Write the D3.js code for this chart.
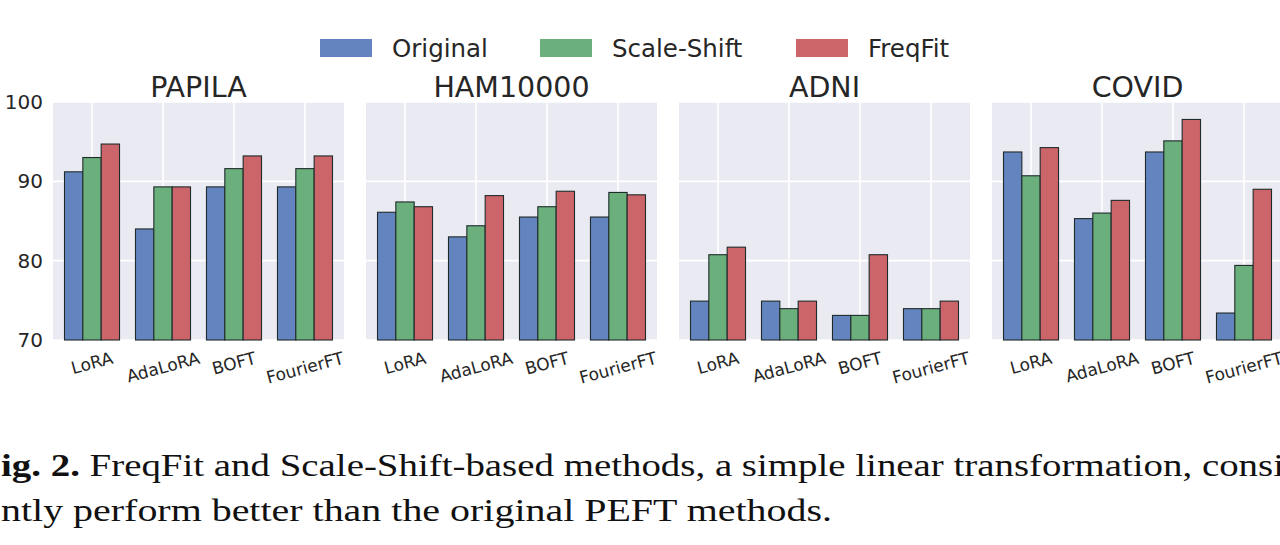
<!DOCTYPE html>
<html>
<head>
<meta charset="utf-8">
<script src="https://cdn.jsdelivr.net/npm/d3@7"></script>
<style>
  html, body { margin: 0; padding: 0; background: #ffffff; overflow: hidden; }
  svg { display: block; }
</style>
</head>
<body>
<svg id="chart" width="1280" height="545"></svg>
<script>
// ---------------- data ----------------
const datasets = ["PAPILA", "HAM10000", "ADNI", "COVID"];
const methods = ["LoRA", "AdaLoRA", "BOFT", "FourierFT"];
const seriesNames = ["Original", "Scale-Shift", "FreqFit"];
// values per dataset (rows) and method (columns)
const original   = [[91.2, 84.0, 89.3, 89.3], [86.1, 83.0, 85.5, 85.5], [74.9, 74.9, 73.1, 73.95], [93.7, 85.3, 93.7, 73.4]];
const scaleShift = [[93.0, 89.3, 91.6, 91.6], [87.4, 84.4, 86.8, 88.6], [80.75, 73.95, 73.1, 73.95], [90.7, 86.0, 95.1, 79.4]];
const freqFit    = [[94.7, 89.3, 93.2, 93.2], [86.8, 88.2, 88.75, 88.3], [81.7, 74.9, 80.75, 74.9], [94.25, 87.6, 97.8, 89.0]];
const yTicks = [70, 80, 90, 100];
const captionLines = [
  ["ig. 2.", " FreqFit and Scale-Shift-based methods, a simple linear transformation, consi"],
  ["", "ntly perform better than the original PEFT methods."]
];

// ---------------- layout ----------------
const colors = ["#6384BF", "#6BB07C", "#CC6569"];
const textColor = "#262626";
const svg = d3.select("#chart");

const plotTop = 102, plotBottom = 340;
const panelX = d3.scaleBand().domain(datasets).range([53, 1283]).paddingInner(22 / 313).paddingOuter(0);
const y = d3.scaleLinear().domain([70, 100]).range([plotBottom, plotTop]);
const x = d3.scaleBand().domain(methods).range([0, panelX.bandwidth()]).paddingInner(0.225).paddingOuter(0.162);
const xs = d3.scaleBand().domain(seriesNames).range([0, x.bandwidth()]).padding(0);
const seriesData = [original, scaleShift, freqFit];

datasets.forEach((ds, di) => {
  const g = svg.append("g").attr("transform", `translate(${panelX(ds)},0)`);
  const w = panelX.bandwidth();
  // background
  g.append("rect").attr("x", 0).attr("y", plotTop).attr("width", w).attr("height", plotBottom - plotTop).attr("fill", "#EAEAF2");
  // horizontal grid
  g.selectAll(".hg").data(yTicks).enter().append("line")
    .attr("x1", 0).attr("x2", w).attr("y1", d => y(d)).attr("y2", d => y(d))
    .attr("stroke", "#ffffff").attr("stroke-width", 1.6);
  // vertical grid
  g.selectAll(".vg").data(methods).enter().append("line")
    .attr("x1", d => x(d) + x.bandwidth() / 2).attr("x2", d => x(d) + x.bandwidth() / 2)
    .attr("y1", plotTop).attr("y2", plotBottom)
    .attr("stroke", "#ffffff").attr("stroke-width", 1.6);
  // bars
  methods.forEach((m, mi) => {
    seriesNames.forEach((s, si) => {
      const v = seriesData[si][di][mi];
      g.append("rect")
        .attr("x", x(m) + xs(s))
        .attr("y", y(v))
        .attr("width", xs.bandwidth())
        .attr("height", y(70) - y(v))
        .attr("fill", colors[si])
        .attr("stroke", "#1f2a2a")
        .attr("stroke-width", 1.1);
    });
  });
  // title
  g.append("text").attr("x", w / 2).attr("y", 97).attr("text-anchor", "middle")
    .attr("font-family", "DejaVu Sans").attr("font-size", 28.5).attr("fill", textColor).text(ds);
  // x axis labels
  const xAxis = g.append("g").attr("transform", `translate(0,${plotBottom})`)
    .call(d3.axisBottom(x).tickSize(0).tickPadding(0));
  xAxis.select(".domain").remove();
  xAxis.selectAll(".tick text").each(function () {
    const t = d3.select(this);
    t.attr("font-family", "DejaVu Sans").attr("font-size", 17).attr("fill", textColor)
      .attr("text-anchor", "middle").attr("dy", "0.35em").attr("y", 0);
    const tw = this.getComputedTextLength();
    const th = 17 * 1.15;
    const a = 15 * Math.PI / 180;
    const bh = tw * Math.sin(a) + th * Math.cos(a);
    t.attr("transform", `translate(0,${8 + bh / 2}) rotate(-15)`);
  });
  // y axis on first panel
  if (di === 0) {
    const yAxis = g.append("g").call(d3.axisLeft(y).tickValues(yTicks).tickSize(0).tickPadding(10));
    yAxis.select(".domain").remove();
    yAxis.selectAll(".tick text").attr("font-family", "DejaVu Sans").attr("font-size", 20).attr("fill", textColor);
  }
});

// legend
const legendX = [320, 540, 796];
seriesNames.forEach((s, i) => {
  svg.append("rect").attr("x", legendX[i]).attr("y", 39).attr("width", 52).attr("height", 18).attr("fill", colors[i]);
  svg.append("text").attr("x", legendX[i] + 72).attr("y", 56.5)
    .attr("font-family", "DejaVu Sans").attr("font-size", 24.5).attr("fill", textColor).text(s);
});

// caption
const capY = [476, 521];
const capLen = [1283, 831];
captionLines.forEach((ln, i) => {
  const t = svg.append("text").attr("x", 1).attr("y", capY[i])
    .attr("font-family", "Liberation Serif").attr("font-size", 31).attr("fill", "#111")
    .attr("textLength", capLen[i]).attr("lengthAdjust", "spacingAndGlyphs");
  if (ln[0]) t.append("tspan").attr("font-weight", "bold").text(ln[0]);
  t.append("tspan").text(ln[1]);
});
</script>
</body>
</html>
